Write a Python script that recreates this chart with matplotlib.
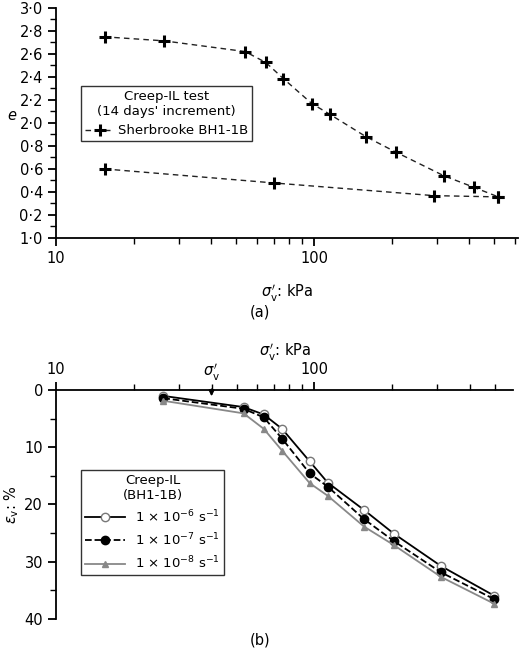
import matplotlib
matplotlib.use("Agg")
import matplotlib.pyplot as plt
from matplotlib.ticker import FixedLocator, NullFormatter, LogLocator

# Panel (a) data
load_s = [15.4, 26.2, 54, 65, 76, 98, 115, 159, 208, 319, 417, 518]
load_e = [2.748, 2.713, 2.62, 2.525, 2.385, 2.168, 2.075, 1.88, 1.745, 1.54, 1.44, 1.357]
unload_s = [518, 291, 70, 15.4]
unload_e = [1.357, 1.368, 1.478, 1.60]
e_ticks = [3.0, 2.8, 2.6, 2.4, 2.2, 2.0, 1.8, 1.6, 1.4, 1.2, 1.0]
e_labels = ["3·0", "2·8", "2·6", "2·4", "2·2", "2·0", "0·8", "0·6", "0·4", "0·2", "1·0"]

# Panel (b) data
sig_b = [26.0, 53.2, 63.7, 75, 96, 112.7, 156, 203, 310, 499]
eps6 = [1.05, 3.0, 4.3, 6.8, 12.5, 16.2, 21.0, 25.1, 30.8, 36.0]
eps7 = [1.45, 3.3, 4.8, 8.5, 14.6, 16.9, 22.6, 26.4, 31.9, 36.6]
eps8 = [1.9, 4.1, 6.8, 10.6, 16.3, 18.5, 23.9, 27.1, 32.7, 37.4]
sigma_p = 40

fs = 10.5
lfs = 9.5
fig = plt.figure(figsize=(5.2, 6.52), dpi=100)
ax = fig.add_axes([0.108, 0.635, 0.888, 0.353])
for s, e in [(load_s, load_e), (unload_s, unload_e)]:
    ax.plot(s, e, ls=(0, (4, 3)), color="#222", lw=1)
    ax.plot(s, e, ls="none", marker="+", ms=8.5, mew=2.2, color="black")
ax.set_xscale("log")
ax.set_xlim(10, 617)
ax.set_ylim(1.0, 3.0)
ax.set_yticks(e_ticks)
ax.set_yticklabels(e_labels, fontsize=fs)
ax.yaxis.set_minor_locator(FixedLocator([x / 10 for x in range(11, 30, 2)]))
ax.xaxis.set_minor_locator(LogLocator(base=10, subs=range(2, 10)))
ax.xaxis.set_minor_formatter(NullFormatter())
ax.set_xticks([10, 100])
ax.set_xticklabels(["10", "100"], fontsize=fs)
for sp in ["top", "right"]:
    ax.spines[sp].set_visible(False)
ax.tick_params(which="major", length=6, width=1.3, direction="out")
ax.tick_params(which="minor", length=4, width=1)
for sp in ax.spines.values():
    sp.set_linewidth(1.3)
ax.set_ylabel("$e$", fontsize=fs, rotation=0, labelpad=2)
ax.yaxis.set_label_coords(-0.095, 0.5)
ax.set_xlabel(r"$\sigma_{\rm v}'$: kPa", fontsize=fs, labelpad=12)
fig.text(0.5, 0.521, "(a)", ha="center", va="center", fontsize=fs)
h, = ax.plot([], [], ls=(0, (4, 3)), color="#222", lw=1, marker="+", ms=8.5, mew=2.2, mec="black")
leg = ax.legend([h], ["Sherbrooke BH1-1B"], title="Creep-IL test\n(14 days' increment)",
                loc="upper left", bbox_to_anchor=(0.04, 0.69), fontsize=lfs, title_fontsize=lfs,
                fancybox=False, edgecolor="black", handlelength=2.2, borderpad=0.3,
                handletextpad=0.3)
leg.get_title().set_multialignment("center")
leg.get_frame().set_linewidth(1)

bx = fig.add_axes([0.108, 0.051, 0.879, 0.351])
bx.plot(sig_b, eps6, "-", color="black", lw=1.3, marker="o", mfc="white", mec="#777", ms=6,
        label=r"1 × 10$^{-6}$ s$^{-1}$")
bx.plot(sig_b, eps7, "--", color="black", lw=1.3, marker="o", mfc="black", ms=6,
        label=r"1 × 10$^{-7}$ s$^{-1}$")
bx.plot(sig_b, eps8, "-", color="#888", lw=1.3, marker="^", mfc="#888", mec="#888", ms=5,
        label=r"1 × 10$^{-8}$ s$^{-1}$")
bx.set_xscale("log")
bx.set_xlim(10, 590)
bx.set_ylim(40, 0)
bx.set_yticks([0, 10, 20, 30, 40])
bx.set_yticklabels(["0", "10", "20", "30", "40"], fontsize=fs)
bx.yaxis.set_minor_locator(FixedLocator([5, 15, 25, 35]))
bx.xaxis.set_minor_locator(LogLocator(base=10, subs=range(2, 10)))
bx.xaxis.set_minor_formatter(NullFormatter())
bx.set_xticks([10, 100])
bx.set_xticklabels(["10", "100"], fontsize=fs)
bx.xaxis.tick_top()
bx.xaxis.set_label_position("top")
for sp in ["bottom", "right"]:
    bx.spines[sp].set_visible(False)
for sp in bx.spines.values():
    sp.set_linewidth(1.3)
bx.tick_params(which="major", length=6, width=1.3, direction="out")
bx.tick_params(which="minor", length=4, width=1)
bx.set_xlabel(r"$\sigma_{\rm v}'$: kPa", fontsize=fs)
bx.set_ylabel(r"$\varepsilon_{\rm v}$: %", fontsize=fs, labelpad=2)
bx.annotate("", xy=(sigma_p, 1.6), xytext=(sigma_p, -0.6), annotation_clip=False,
            arrowprops=dict(arrowstyle="-|>", color="black", lw=1.2, mutation_scale=8))
bx.text(sigma_p, -1.2, r"$\sigma_{\rm v}'$", ha="center", va="bottom", fontsize=fs)
leg2 = bx.legend(title="Creep-IL\n(BH1-1B)", loc="upper left", bbox_to_anchor=(0.04, 0.68),
                 fontsize=lfs, title_fontsize=lfs, fancybox=False, edgecolor="black",
                 handlelength=3, borderpad=0.3)
leg2.get_title().set_multialignment("center")
leg2.get_frame().set_linewidth(1)
fig.text(0.5, 0.018, "(b)", ha="center", va="center", fontsize=fs)
fig.savefig("out.png", dpi=100)
